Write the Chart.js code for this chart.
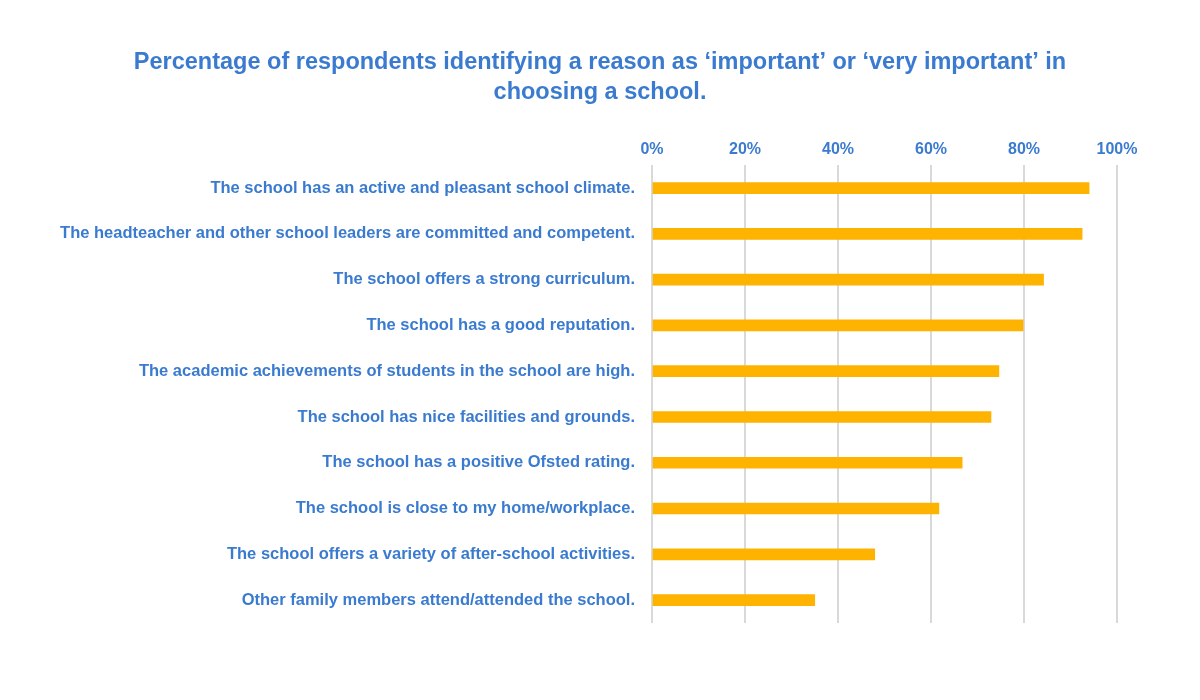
<!DOCTYPE html>
<html>
<head>
<meta charset="utf-8">
<script src="https://cdn.jsdelivr.net/npm/chart.js@4/dist/chart.umd.min.js"></script>
<style>
  html, body { margin: 0; padding: 0; background: #fff; }
  #wrap { width: 1200px; height: 700px; }
</style>
</head>
<body>
<div id="wrap"><canvas id="reasonsChart"></canvas></div>
<script>
// categories (top to bottom)
const reasons = [
    'The school has an active and pleasant school climate.',
    'The headteacher and other school leaders are committed and competent.',
    'The school offers a strong curriculum.',
    'The school has a good reputation.',
    'The academic achievements of students in the school are high.',
    'The school has nice facilities and grounds.',
    'The school has a positive Ofsted rating.',
    'The school is close to my home/workplace.',
    'The school offers a variety of after-school activities.',
    'Other family members attend/attended the school.'
];

// % saying important / very important
const importantPct = [94, 92.5, 84.2, 79.8, 74.6, 72.9, 66.7, 61.7, 47.9, 35];

// axis ticks
const pctTicks = [0, 20, 40, 60, 80, 100];

const blue = '#3a7bd0';
const gold = '#fdb300';
const fontFam = 'Liberation Sans, Arial, sans-serif';

const ctx = document.getElementById('reasonsChart').getContext('2d');

new Chart(ctx, {
    type: 'bar',
    data: {
        labels: reasons,
        datasets: [{
            label: 'Important or very important',
            data: importantPct,
            backgroundColor: gold,
            borderWidth: 0,
            barThickness: 11
        }]
    },
    options: {
        indexAxis: 'y',
        responsive: true,
        maintainAspectRatio: false,
        animation: false,
        layout: { padding: { top: 0, left: 0, right: 0, bottom: 77 } },
        plugins: {
            legend: { display: false },
            tooltip: { enabled: false },
            title: {
                display: true,
                text: [
                    'Percentage of respondents identifying a reason as \u2018important\u2019 or \u2018very important\u2019 in',
                    'choosing a school.'
                ],
                color: blue,
                font: { family: fontFam, size: 23.5, weight: 'bold', lineHeight: 1.28 },
                padding: { top: 47, bottom: 0 }
            }
        },
        scales: {
            x: {
                position: 'top',
                min: 0,
                max: 100,
                afterBuildTicks: (scale) => {
                    scale.ticks = pctTicks.map(v => ({ value: v }));
                },
                afterFit: (scale) => { scale.height = 58; },
                grid: { color: '#d9d9d9', lineWidth: 2, drawTicks: false, tickLength: 0 },
                border: { display: false },
                ticks: {
                    padding: 6,
                    color: blue,
                    font: { family: fontFam, size: 16, weight: 'bold' },
                    callback: v => v + '%'
                }
            },
            y: {
                afterFit: (scale) => { scale.width = 652; },
                grid: { display: false, drawTicks: false, tickLength: 0 },
                border: { display: false },
                ticks: {
                    padding: 17,
                    color: blue,
                    font: { family: fontFam, size: 16.5, weight: 'bold' }
                }
            },
            // empty spacer on the right so the plot ends at 100% like the original
            ySpacer: {
                type: 'category',
                position: 'right',
                afterFit: (scale) => { scale.width = 83; },
                grid: { display: false, drawTicks: false },
                border: { display: false },
                ticks: { display: false }
            }
        }
    }
});
</script>
</body>
</html>
